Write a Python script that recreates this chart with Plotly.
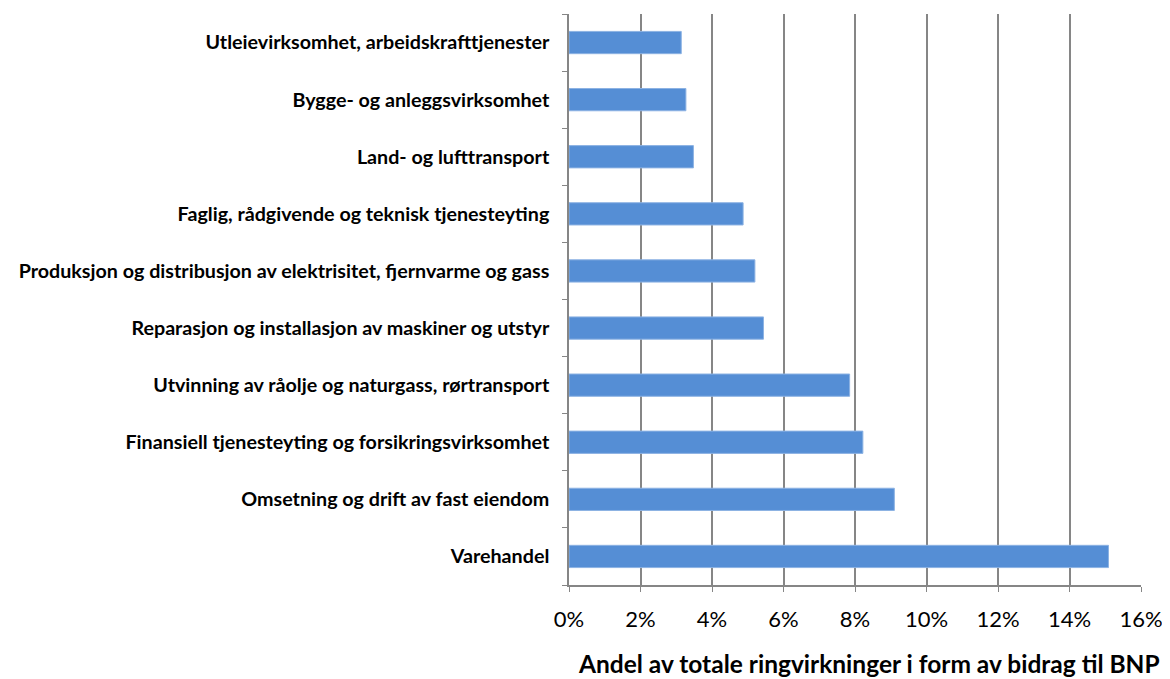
import plotly.graph_objects as go

categories = [
    "Varehandel",
    "Omsetning og drift av fast eiendom",
    "Finansiell tjenesteyting og forsikringsvirksomhet",
    "Utvinning av råolje og naturgass, rørtransport",
    "Reparasjon og installasjon av maskiner og utstyr",
    "Produksjon og distribusjon av elektrisitet, fjernvarme og gass",
    "Faglig, rådgivende og teknisk tjenesteyting",
    "Land- og lufttransport",
    "Bygge- og anleggsvirksomhet",
    "Utleievirksomhet, arbeidskrafttjenester",
]
values = [0.1509, 0.0910, 0.0822, 0.0785, 0.0544, 0.0520, 0.0487, 0.0348, 0.0327, 0.0314]
x_ticks = [0, 0.02, 0.04, 0.06, 0.08, 0.10, 0.12, 0.14, 0.16]
x_title = "Andel av totale ringvirkninger i form av bidrag til BNP"

fig = go.Figure(go.Bar(
    x=values, y=categories, orientation="h",
    marker=dict(color="#558ED5", line=dict(color="#8CB2E3", width=1)),
))

fig.update_layout(
    width=1170, height=679,
    margin=dict(l=561, r=37, t=6, b=102),
    plot_bgcolor="white", paper_bgcolor="white",
    bargap=0.61,
    showlegend=False,
    font=dict(family="Lato, Carlito, sans-serif", color="black"),
)
fig.add_annotation(
    text=f"<b>{x_title}</b>", xref="paper", yref="paper",
    x=0.012, y=-0.137, xanchor="left", yanchor="middle",
    showarrow=False, font=dict(size=24.5),
)
fig.update_xaxes(
    range=[0, 0.16], tickvals=x_ticks, tickformat=".0%",
    showgrid=True, gridcolor="#868686", gridwidth=1.5,
    showline=True, linecolor="#868686", linewidth=1.5,
    ticks="outside", ticklen=5, tickcolor="#868686",
    tickfont=dict(size=22, family="Lato, sans-serif"),
    ticklabelstandoff=9,
    zeroline=False, automargin=False,
)
fig.update_yaxes(
    categoryorder="array", categoryarray=categories,
    showgrid=False,
    showline=True, linecolor="#868686", linewidth=1.5,
    ticks="outside", ticklen=5, tickcolor="#868686", tickson="boundaries",
    tickfont=dict(size=19.7, family="Lato, sans-serif"),
    ticklabelstandoff=14,
    tickprefix="<b>", ticksuffix="</b>",
    automargin=False,
)

fig.write_html("out.html")
